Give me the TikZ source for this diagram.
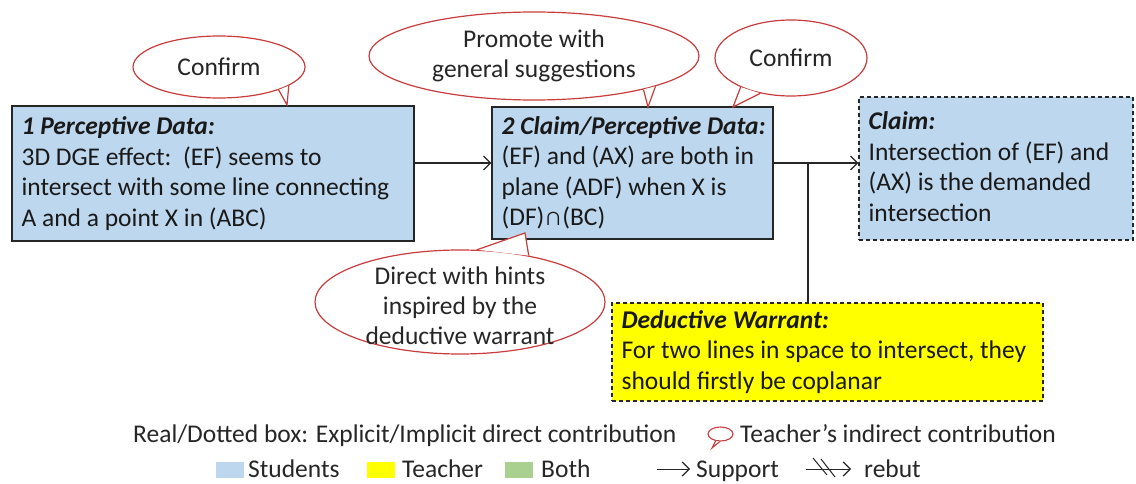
\documentclass[tikz,border=0pt]{standalone}
\usepackage{fontspec}
\setmainfont{Carlito}
\usetikzlibrary{arrows.meta,shapes.geometric,calc}
\definecolor{stu}{RGB}{189,215,238}
\definecolor{tea}{RGB}{255,255,0}
\definecolor{both}{RGB}{169,208,142}
\definecolor{cred}{RGB}{200,60,60}
\tikzset{
  box/.style={draw=black!85, line width=1.2pt, inner sep=0pt},
  solidbox/.style={box, fill=stu},
  dashbox/.style={box, dash pattern=on 4pt off 3pt},
  btxt/.style={align=left, inner sep=0pt, anchor=west, text=black!90,
    font=\fontsize{25.5}{30.5}\selectfont},
  sup/.style={-{Straight Barb[length=7pt,width=14pt,line width=1.2pt]}, line width=1.2pt, draw=black!85},
  bubble/.style={ellipse, draw=cred, fill=white, line width=1.2pt, inner sep=0pt},
  btext/.style={align=center, font=\fontsize{25.5}{30}\selectfont, text=black!85},
  lab/.style={font=\fontsize{25.5}{30.5}\selectfont, text=black!85, inner sep=0pt},
  tail/.style={draw=cred, line width=1.2pt, line join=miter},
  swatch/.style={minimum width=28pt, minimum height=16pt, inner sep=0pt, draw=none}
}
\begin{document}
\begin{tikzpicture}[x=1pt,y=-1pt]
\useasboundingbox (0,0) rectangle (1136,484);
% boxes
\node[solidbox, minimum width=402pt, minimum height=135pt] (n1) at (213,173.5) {};
\node[btxt] (n1t) at ([xshift=10pt]n1.west)
  {\textbf{\textit{1 Perceptive Data:}}\\3D DGE effect:\ \ (EF) seems to\\intersect with some line connecting\\A and a point X in (ABC)};
\node[solidbox, minimum width=281pt, minimum height=132pt] (n2) at (632.5,173) {};
\node[btxt] (n2t) at ([xshift=10pt]n2.west)
  {\textbf{\textit{2 Claim/Perceptive Data:}}\\(EF) and (AX) are both in\\plane (ADF) when X is\\(DF)∩(BC)};
\node[dashbox, fill=stu, minimum width=274pt, minimum height=143pt] (n3) at (996,168.5) {};
\node[btxt] (n3t) at ([xshift=10pt,yshift=2pt]n3.west)
  {\textbf{\textit{Claim:}}\\Intersection of (EF) and\\(AX) is the demanded\\intersection};
\node[dashbox, fill=tea, minimum width=431pt, minimum height=98pt] (n4) at (827.5,352) {};
\node[btxt] (n4t) at ([xshift=10pt]n4.west)
  {\textbf{\textit{Deductive Warrant:}}\\For two lines in space to intersect, they\\should firstly be coplanar};
% connectors
\coordinate (ay) at (0,163);
\coordinate (jn) at (808,163);
\draw[sup] (n1.east |- ay) -- (n2.west |- ay);
\draw[sup] (n2.east |- ay) -- (n3.west |- ay);
\draw[line width=1.2pt, draw=black!85] (jn) -- (jn |- n4.north);
% callout 1
\node[bubble, minimum width=172pt, minimum height=62pt] (c1) at (219,67) {};
\coordinate (t1) at (287,105);
\fill[white] (c1.-21) -- (t1) -- (c1.-15) -- cycle;
\draw[tail] (c1.-21) -- (t1) -- (c1.-15);
\node[btext] (c1t) at (c1) {Confirm};
% callout 2
\node[bubble, minimum width=330pt, minimum height=88pt] (c2) at (534,56) {};
\coordinate (t2) at (648,107);
\fill[white] (c2.-17) -- (t2) -- (c2.-14) -- cycle;
\draw[tail] (c2.-17) -- (t2) -- (c2.-14);
\node[btext] (c2t) at (c2) {Promote with\\general suggestions};
% callout 3
\node[bubble, minimum width=152pt, minimum height=76pt] (c3) at (791,58) {};
\coordinate (t3) at (733,107);
\fill[white] (c3.-150) -- (t3) -- (c3.-131) -- cycle;
\draw[tail] (c3.-150) -- (t3) -- (c3.-131);
\node[btext] (c3t) at (c3) {Confirm};
% callout 4
\node[bubble, minimum width=290pt, minimum height=104pt] (c4) at (460,302) {};
\coordinate (t4) at (525,233);
\fill[white] (c4.72) -- (t4) -- (c4.34) -- cycle;
\draw[tail] (c4.72) -- (t4) -- (c4.34);
\node[btext] (c4t) at (460,306) {Direct with hints\\inspired by the\\deductive warrant};
% legend row 1
\node[lab, anchor=base west] (l1) at (133,442) {Real/Dotted box: Explicit/Implicit direct contribution};
\node[ellipse, draw=cred, line width=1.1pt, minimum width=25pt, minimum height=14pt, inner sep=0pt] (ic) at (720.5,434) {};
\coordinate (ict) at (712,448);
\fill[white] (ic.-125) -- (ict) -- (ic.-95) -- cycle;
\draw[draw=cred, line width=1.1pt] (ic.-125) -- (ict) -- (ic.-95);
\node[lab, anchor=base west] (l2) at (740,442) {Teacher’s indirect contribution};
% legend row 2
\node[swatch, fill=stu] (s1) at (230,470) {};
\node[lab, anchor=base west] (s1t) at (248,477) {Students};
\node[swatch, fill=tea] (s2) at (381,470) {};
\node[lab, anchor=base west] (s2t) at (402,477) {Teacher};
\node[swatch, fill=both] (s3) at (519,470) {};
\node[lab, anchor=base west] (s3t) at (541,477) {Both};
\coordinate (sa) at (657,469);
\coordinate (sb) at (690,469);
\node[lab, anchor=base west] (spt) at (696,477) {Support};
\draw[sup, line width=1pt] (sa) -- (sb);
\coordinate (ra) at (806,469);
\coordinate (rb) at (851,469);
\draw[sup, line width=1pt] (ra) -- (rb);
\draw[line width=1pt, draw=black!85] (813,458) -- (827,475);
\draw[line width=1pt, draw=black!85] (821,459) -- (835,477);
\node[lab, anchor=base west] (rbt) at (864,477) {rebut};
\end{tikzpicture}
\end{document}
